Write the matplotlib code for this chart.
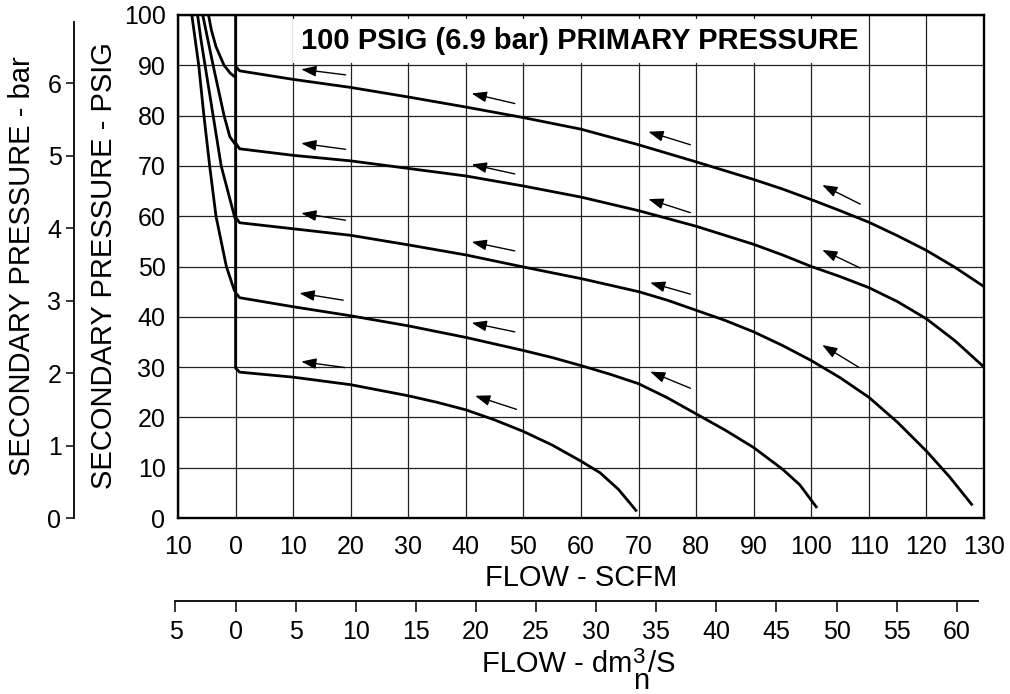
import matplotlib
matplotlib.use("Agg")
import matplotlib.pyplot as plt

plt.rcParams['font.family'] = ['Liberation Sans', 'DejaVu Sans']

# ---------------- data ----------------
# flow in SCFM (negative = relief/exhaust), pressure in PSIG
c1_left_x = [-4.7, -4.2, -3.4, -2.0, -0.9, 0.0]
c1_left_p = [100, 97, 93.7, 90, 88.4, 87.6]
c1_x = [0, 0.7, 10, 20, 30, 40, 50, 60, 70, 80, 90, 95, 100, 105, 110, 115, 120, 125, 130]
c1_p = [89.8, 88.9, 87.2, 85.6, 83.7, 81.7, 79.6, 77.3, 74.2, 70.8, 67.3, 65.4, 63.3, 61.1, 58.8, 56.1, 53.2, 49.8, 46.0]

c2_left_x = [-5.7, -4.8, -3.9, -2.0, -1.0, 0.0]
c2_left_p = [100, 95, 90, 80, 75.8, 74.2]
c2_x = [0, 0.7, 10, 20, 30, 40, 50, 60, 70, 80, 90, 95, 100, 105, 110, 115, 120, 125, 130]
c2_p = [74.6, 73.4, 72.1, 71.0, 69.5, 68.0, 66.0, 63.8, 61.1, 58.0, 54.4, 52.3, 50.0, 48.0, 45.8, 43.0, 39.6, 35.2, 30.0]

c3_left_x = [-6.6, -6.0, -5.3, -3.9, -2.5, -0.2, 0.0]
c3_left_p = [100, 95, 90, 80, 70, 60, 59.3]
c3_x = [0, 0.7, 10, 20, 30, 40, 50, 60, 65, 70, 75, 80, 85, 90, 95, 100, 105, 110, 115, 120, 124, 128]
c3_p = [59.8, 58.7, 57.5, 56.2, 54.3, 52.3, 49.9, 47.6, 46.3, 45.0, 43.3, 41.3, 39.3, 37.0, 34.3, 31.3, 27.9, 24.0, 19.0, 13.3, 8.2, 2.5]

c4_left_x = [-7.6, -7.0, -6.4, -5.5, -4.5, -3.4, -1.6, -0.2, 0.0]
c4_left_p = [100, 95, 90, 80, 70, 60, 50, 45.2, 45.0]
c4_x = [0, 0.7, 10, 20, 30, 40, 50, 55, 60, 65, 70, 75, 80, 85, 90, 95, 98, 101]
c4_p = [44.8, 43.8, 42.0, 40.2, 38.2, 35.9, 33.3, 31.9, 30.3, 28.6, 26.7, 23.9, 20.7, 17.5, 14.0, 9.7, 6.6, 2.0]

c5_x = [0, 0, 0.7, 10, 20, 30, 35, 40, 45, 50, 55, 60, 63.3, 66.5, 69.7]
c5_p = [100, 29.8, 29.0, 28.0, 26.5, 24.3, 23.0, 21.5, 19.5, 17.2, 14.5, 11.3, 9.0, 5.7, 1.3]

# flow-direction arrows: (tail flow, tail psig, head flow, head psig)
arrows = [
    (19.1, 88.1, 11.4, 89.2), (48.5, 82.4, 41.0, 84.4), (79.0, 74.2, 71.7, 76.8), (108.5, 62.4, 101.9, 66.2),
    (19.1, 73.3, 11.4, 74.5), (48.5, 68.4, 41.0, 70.3), (79.0, 60.7, 71.7, 63.4), (108.5, 49.7, 101.9, 53.3),
    (19.1, 59.2, 11.4, 60.6), (48.5, 53.1, 41.0, 54.9), (79.0, 44.5, 72.0, 46.8), (108.2, 30.0, 101.9, 34.4),
    (18.7, 43.3, 11.1, 44.7), (48.5, 37.0, 41.0, 38.8), (79.0, 25.8, 72.0, 29.1),
    (19.0, 29.9, 11.4, 31.1), (48.8, 21.6, 41.6, 24.3),
]

x_ticks = list(range(-10, 131, 10))
y_ticks = list(range(0, 101, 10))
bar_ticks = [0, 1, 2, 3, 4, 5, 6]
dm_ticks = list(range(-5, 61, 5))

PSI_PER_BAR = 14.4      # as drawn on the bar scale
DM3_PER_SCFM = 0.479    # as drawn on the dm3/s scale
title = "100 PSIG (6.9 bar) PRIMARY PRESSURE"

# ---------------- layout ----------------
W, H = 1010, 694
fig = plt.figure(figsize=(W / 100, H / 100), dpi=100)

L, R, T, B = 178, 984, 15, 518
def fx(px):
    return px / W
def fy(py):
    return 1 - py / H

TICK_FS = 18
LABEL_FS = 21

ax = fig.add_axes([fx(L), fy(B), fx(R) - fx(L), fy(T) - fy(B)])
XMIN, XMAX = -10, 130
ax.set_xlim(XMIN, XMAX)
ax.set_ylim(0, 100)
ax.set_xticks(x_ticks)
ax.set_xticklabels([str(abs(v)) for v in x_ticks])
ax.set_yticks(y_ticks)
ax.set_yticklabels([str(v) for v in y_ticks])
ax.tick_params(axis='both', length=0, labelsize=TICK_FS, colors='black')
ax.tick_params(axis='x', pad=12)
ax.tick_params(axis='y', pad=9)
ax.grid(True, color='#222222', lw=0.9)
ax.set_axisbelow(True)
for s in ax.spines.values():
    s.set_linewidth(1.7)
    s.set_color('black')

lw = 2.0
for xs, ps in [(c1_left_x, c1_left_p), (c1_x, c1_p), (c2_left_x, c2_left_p), (c2_x, c2_p),
               (c3_left_x, c3_left_p), (c3_x, c3_p), (c4_left_x, c4_left_p), (c4_x, c4_p),
               (c5_x, c5_p)]:
    ax.plot(xs, ps, color='black', lw=lw, solid_joinstyle='round', solid_capstyle='butt', zorder=3)

for tx, tp, hx, hp in arrows:
    ax.annotate('', xy=(hx, hp), xytext=(tx, tp),
                arrowprops=dict(arrowstyle='-|>,head_length=0.5,head_width=0.18',
                                mutation_scale=18, lw=1.0, color='black',
                                shrinkA=0, shrinkB=0), zorder=4)

ax.text(0.5 * (XMIN + XMAX) - 0.2, 94.8, title, ha='center', va='center', fontsize=21,
        fontweight='bold', zorder=5,
        bbox=dict(boxstyle='square,pad=0.28', fc='white', ec='none'))

# ---------------- bar axis ----------------
bax = fig.add_axes([fx(74), fy(B), 0.0005, fy(T) - fy(B)])
bax.patch.set_visible(False)
for k in ['right', 'top', 'bottom']:
    bax.spines[k].set_visible(False)
bax.spines['left'].set_linewidth(1.3)
bax.set_ylim(0, 100 / PSI_PER_BAR)
bax.spines['left'].set_bounds(0, 6.85)
bax.set_yticks(bar_ticks)
bax.set_yticklabels([str(v) for v in bar_ticks])
bax.set_xticks([])
bax.tick_params(axis='y', length=6, width=1.1, pad=3, labelsize=TICK_FS)

# ---------------- dm3/s axis ----------------
px_per_scfm = (R - L) / (XMAX - XMIN)
d_lo, d_hi = -5.3, 62.2
left_px = L + (d_lo / DM3_PER_SCFM - XMIN) * px_per_scfm
right_px = L + (d_hi / DM3_PER_SCFM - XMIN) * px_per_scfm
dax = fig.add_axes([fx(left_px), fy(601), fx(right_px) - fx(left_px), 0.0005])
dax.patch.set_visible(False)
for k in ['left', 'right', 'top']:
    dax.spines[k].set_visible(False)
dax.spines['bottom'].set_linewidth(1.3)
dax.set_xlim(d_lo, d_hi)
dax.spines['bottom'].set_bounds(-5, 61.8)
dax.set_xticks(dm_ticks)
dax.set_xticklabels([str(abs(v)) for v in dm_ticks])
dax.set_yticks([])
dax.tick_params(axis='x', length=8, width=1.1, pad=6, labelsize=TICK_FS)

# ---------------- axis titles ----------------
fig.text(fx(581), fy(586), "FLOW - SCFM", ha='center', va='baseline', fontsize=LABEL_FS)
fig.text(fx(632), fy(672), "FLOW - dm", ha='right', va='baseline', fontsize=LABEL_FS)
fig.text(fx(632), fy(663), "3", ha='left', va='baseline', fontsize=16)
fig.text(fx(633), fy(689), "n", ha='left', va='baseline', fontsize=LABEL_FS)
fig.text(fx(648), fy(672), "/S", ha='left', va='baseline', fontsize=LABEL_FS)
fig.text(fx(104), fy(266), "SECONDARY PRESSURE - PSIG", rotation=90, ha='center', va='center', fontsize=LABEL_FS)
fig.text(fx(22), fy(266), "SECONDARY PRESSURE - bar", rotation=90, ha='center', va='center', fontsize=LABEL_FS)

fig.savefig("out.png", dpi=100)
